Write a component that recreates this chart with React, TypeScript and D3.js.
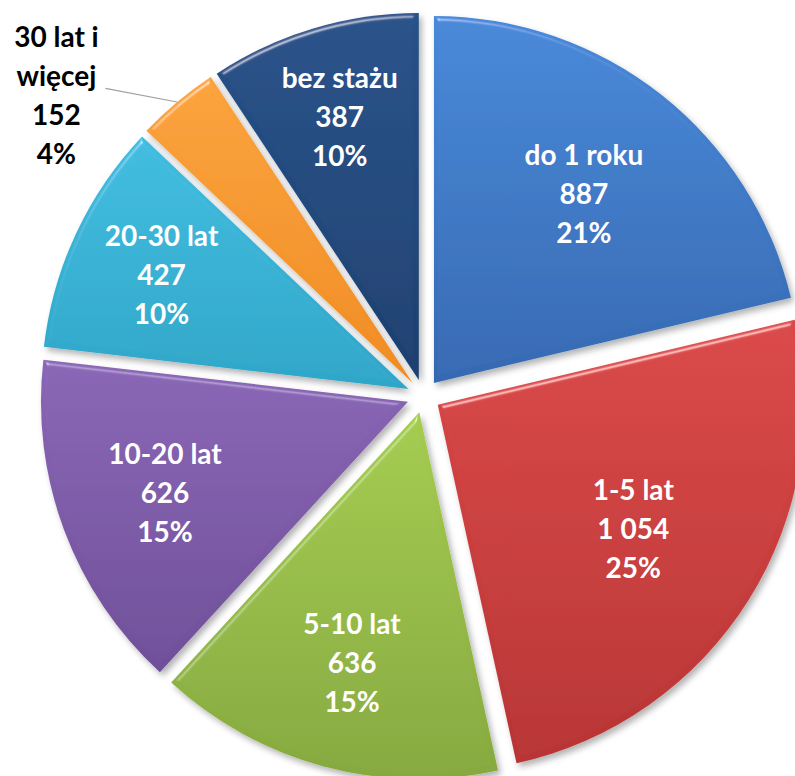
import React from "react";
import * as d3 from "d3";

const categories = ["do 1 roku", "1-5 lat", "5-10 lat", "10-20 lat", "20-30 lat", "30 lat i więcej", "bez stażu"];
const values = [887, 1054, 636, 626, 427, 152, 387];
const percentLabels = ["21%", "25%", "15%", "15%", "10%", "4%", "10%"];
const colorsTop = ["#4789d9", "#db4848", "#a5cc50", "#8a66b6", "#40bde0", "#fba33c", "#27528a"];
const colorsBottom = ["#3669b2", "#b83434", "#86a93f", "#6f4f99", "#2ea6c8", "#f08c22", "#1d4070"];

const W = 795;
const H = 776;
const cx = 423.6;
const cy = 396;
const R = 367;
const explode = 16.7;

const fmt = d3.formatLocale({ decimal: ",", thousands: " ", grouping: [3], currency: ["", " zł"] }).format(",d");

const App = () => {
  const pie = d3.pie<number>().sort(null).value(d => d).startAngle(0).endAngle(2 * Math.PI);
  const arcs = pie(values);
  const arc = d3.arc<d3.PieArcDatum<number>>().innerRadius(0).outerRadius(R);

  const polar = (a: number, r: number) => [Math.sin(a) * r, -Math.cos(a) * r];

  return (
    <svg width={W} height={H} style={{ position: "absolute", left: 0, top: 0 }} fontFamily="Lato, 'Open Sans', sans-serif">
      <defs>
        {categories.map((c, i) => (
          <linearGradient key={c} id={"g" + i} x1="0" y1="0" x2="0" y2="1">
            <stop offset="0%" stopColor={colorsTop[i]} />
            <stop offset="100%" stopColor={colorsBottom[i]} />
          </linearGradient>
        ))}
        <filter id="bevel" x="-10%" y="-10%" width="130%" height="130%">
          <feGaussianBlur in="SourceAlpha" stdDeviation="2.5" result="blur" />
          <feSpecularLighting in="blur" surfaceScale="4" specularConstant="0.9" specularExponent="40" lightingColor="#ffffff" result="spec">
            <feDistantLight azimuth="250" elevation="35" />
          </feSpecularLighting>
          <feComposite in="spec" in2="SourceAlpha" operator="in" result="specIn" />
          <feComposite in="SourceGraphic" in2="specIn" operator="arithmetic" k1="0" k2="1" k3="0.5" k4="0" result="lit" />
          <feGaussianBlur in="SourceAlpha" stdDeviation="3" result="sb" />
          <feOffset in="sb" dx="3" dy="4" result="so" />
          <feFlood floodColor="#000" floodOpacity="0.3" />
          <feComposite in2="so" operator="in" result="shadow" />
          <feMerge>
            <feMergeNode in="shadow" />
            <feMergeNode in="lit" />
          </feMerge>
        </filter>
      </defs>
      {arcs.map((d, i) => {
        const mid = (d.startAngle + d.endAngle) / 2;
        const [ox, oy] = polar(mid, explode);
        return (
          <g key={categories[i]} transform={`translate(${cx + ox},${cy + oy})`}>
            <path d={arc(d) || ""} fill={`url(#g${i})`} filter="url(#bevel)" />
          </g>
        );
      })}
      {arcs.map((d, i) => {
        const mid = (d.startAngle + d.endAngle) / 2;
        const deg = ((d.endAngle - d.startAngle) * 180) / Math.PI;
        const [ox, oy] = polar(mid, explode);
        const ax = cx + ox;
        const ay = cy + oy;
        if (deg < 20) {
          // small slice: label outside with a leader line
          const words = categories[i].split(" ");
          const lines = [words.slice(0, -1).join(" "), words[words.length - 1], fmt(values[i]), percentLabels[i]];
          const [lx, ly] = polar(mid - (11 * Math.PI) / 180, R * 1.25);
          const tx = ax + lx;
          const ty = ay + ly;
          const [sx, sy] = polar(mid, R);
          return (
            <g key={"l" + i}>
              <polyline points={`${ax + sx},${ay + sy} ${tx + 49},${ty - 6}`} fill="none" stroke="#a0a0a0" strokeWidth={1.2} />
              {lines.map((t, j) => (
                <text key={j} x={tx} y={ty + (j - 1.5) * 39} textAnchor="middle" dominantBaseline="central" fontSize={28} fontWeight="bold" fill="#000">
                  {t}
                </text>
              ))}
            </g>
          );
        }
        const lr = R * (0.82 - 0.0021 * deg);
        const [lx, ly] = polar(mid, lr);
        const lines = [categories[i], fmt(values[i]), percentLabels[i]];
        return (
          <g key={"l" + i}>
            {lines.map((t, j) => (
              <text key={j} x={ax + lx} y={ay + ly + (j - 1) * 39} textAnchor="middle" dominantBaseline="central" fontSize={28} fontWeight="bold" fill="#fff">
                {t}
              </text>
            ))}
          </g>
        );
      })}
    </svg>
  );
};

export default App;
